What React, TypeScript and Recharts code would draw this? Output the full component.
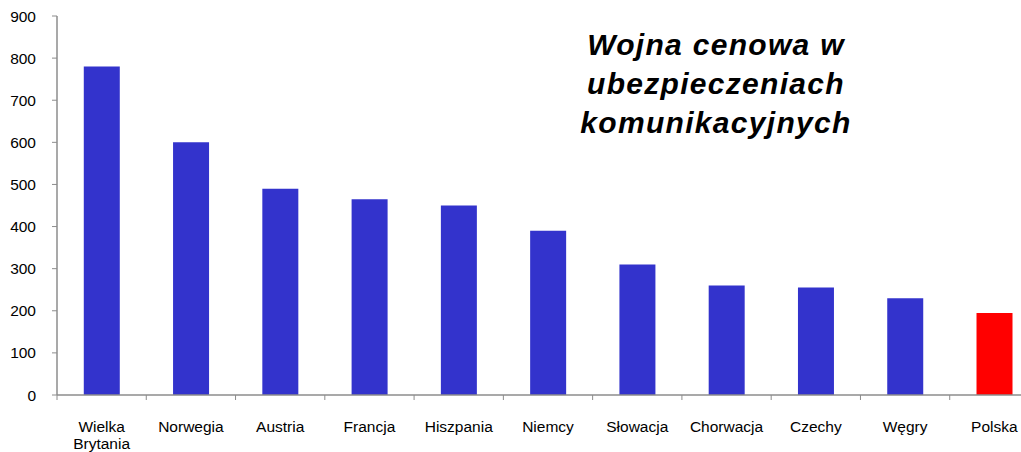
import React from 'react';
import { BarChart, Bar, XAxis, YAxis, Cell } from 'recharts';

const countries = ['Wielka Brytania', 'Norwegia', 'Austria', 'Francja', 'Hiszpania', 'Niemcy', 'Słowacja', 'Chorwacja', 'Czechy', 'Węgry', 'Polska'];
const values = [780, 600, 490, 465, 450, 390, 310, 260, 255, 230, 195];
const barColors = ['#3333CC', '#3333CC', '#3333CC', '#3333CC', '#3333CC', '#3333CC', '#3333CC', '#3333CC', '#3333CC', '#3333CC', '#FF0000'];
const yTicks = [0, 100, 200, 300, 400, 500, 600, 700, 800, 900];
const titleLines = ['Wojna cenowa w', 'ubezpieczeniach', 'komunikacyjnych'];

const data = countries.map((name, i) => ({ name, value: values[i], color: barColors[i] }));

const AXIS = '#8C8C8C';
const FONT = '"Liberation Sans", Arial, sans-serif';

const XTick = (props: any) => {
  const { x, y, payload } = props;
  const off = payload && payload.offset ? payload.offset : 0;
  const words = String(payload.value).split(' ');
  const lines = words.length > 1 ? words : [payload.value];
  return (
    <g>
      <line x1={x - off} x2={x - off} y1={y} y2={y + 5} stroke={AXIS} strokeWidth={1} />
      <text x={x} y={y + 37} textAnchor="middle" fill="#000" fontSize={15.5} fontFamily={FONT}>
        {lines.map((l: string, i: number) => (
          <tspan key={i} x={x} dy={i === 0 ? 0 : 17}>{l}</tspan>
        ))}
      </text>
    </g>
  );
};

export default function App() {
  return (
    <div style={{ position: 'absolute', left: 0, top: 0, width: 1021, height: 452, overflow: 'hidden', background: '#fff' }}>
      <BarChart
        width={1039}
        height={452}
        data={data}
        margin={{ top: 16, right: 0, bottom: 0, left: 0 }}
        barCategoryGap="30%"
      >
        <XAxis
          dataKey="name"
          interval={0}
          tickLine={false}
          tickSize={0}
          tickMargin={0}
          height={57}
          stroke={AXIS}
          axisLine={{ stroke: AXIS, strokeWidth: 1.5 }}
          tick={<XTick />}
        />
        <YAxis
          domain={[0, 900]}
          ticks={yTicks}
          width={57}
          interval={0}
          tickSize={5}
          tickMargin={16}
          stroke={AXIS}
          axisLine={{ stroke: AXIS, strokeWidth: 1.5 }}
          tickLine={{ stroke: AXIS }}
          tick={{ fill: '#000', fontSize: 15.5, fontFamily: FONT }}
        />
        <Bar dataKey="value" isAnimationActive={false}>
          {data.map((d, i) => (
            <Cell key={i} fill={d.color} />
          ))}
        </Bar>
      </BarChart>
      <div
        style={{
          position: 'absolute',
          left: 556,
          top: 25,
          width: 320,
          textAlign: 'center',
          fontFamily: FONT,
          fontWeight: 'bold',
          fontStyle: 'italic',
          fontSize: 30,
          letterSpacing: 1.3,
          lineHeight: '39px',
          color: '#000',
        }}
      >
        {titleLines.map((l, i) => (
          <div key={i}>{l}</div>
        ))}
      </div>
    </div>
  );
}
